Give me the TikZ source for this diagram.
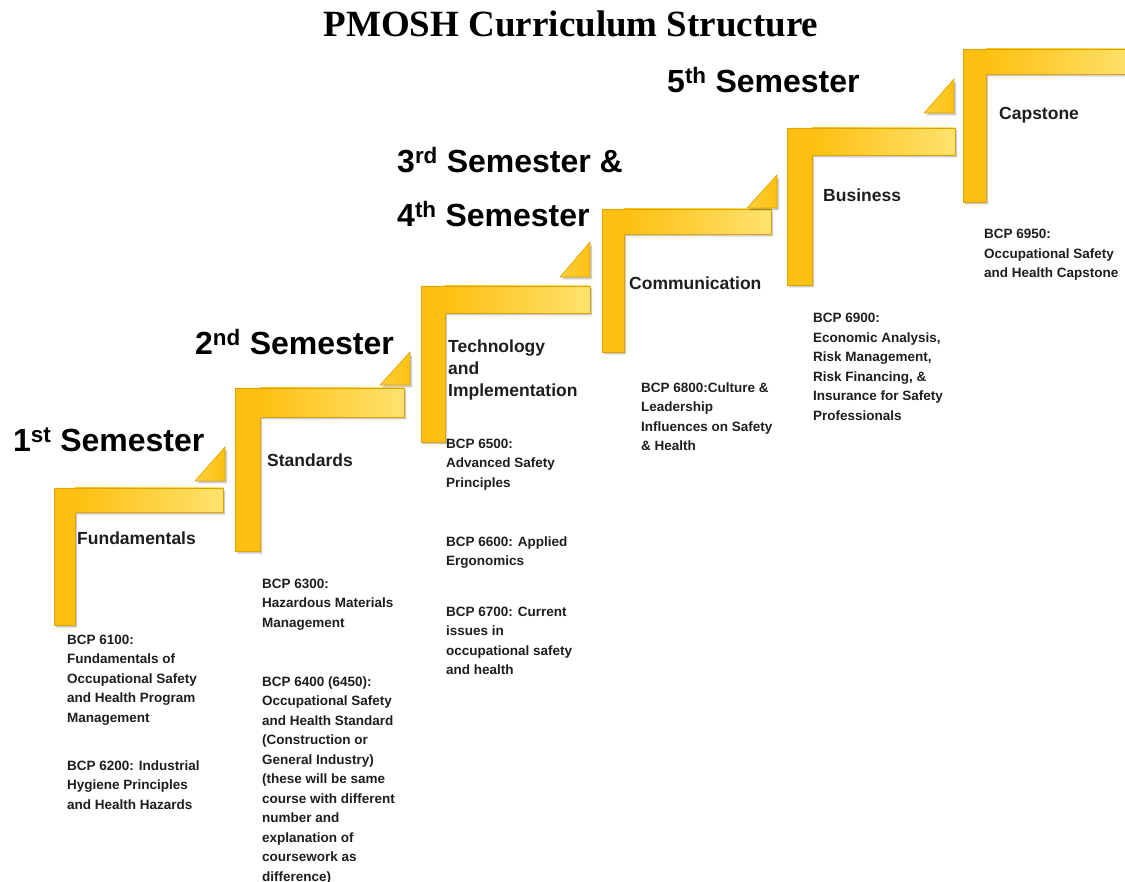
\documentclass[tikz,border=0pt]{standalone}
\usepackage{fontspec}
\setmainfont{Liberation Sans}
\newfontfamily\titlefont{Liberation Serif}
\definecolor{yel}{HTML}{FDC010}
\definecolor{yellight}{HTML}{FFE26E}
\definecolor{yelline}{HTML}{DCA400}
\definecolor{txt}{HTML}{1E1E1E}
\tikzset{
  sem/.style={anchor=base west, inner sep=0pt, text=black, font=\fontsize{32}{36}\selectfont\bfseries},
  cat/.style={anchor=base west, inner sep=0pt, align=left, text=txt, font=\fontsize{17.5}{22}\selectfont\bfseries},
  course/.style={anchor=base west, inner sep=0pt, align=left, text=txt, font=\fontsize{13.5}{19.5}\selectfont\bfseries},
  shadowfill/.style={fill=black, opacity=0.2},
  barline/.style={draw=yelline, line width=0.6pt, line join=miter}
}
\begin{document}
\begin{tikzpicture}[x=1pt,y=-1pt]
\useasboundingbox (0,0) rectangle (1125,882);
\clip (0,0) rectangle (1125,882);
% step brackets
\foreach \L/\T/\R/\Tb/\Li/\B in {54/488/223/512/75/625, 235/388/404/417/260/551, 421/286/590/313/445/442, 602/209/771/234/624/352, 787/128/955/155/812/285, 963/49/1135/74/986/202}{
  \begin{scope}[shift={(2,2.5)}]
    \fill[shadowfill] (\L,\T) -- (\R,\T) -- (\R,\Tb) -- (\Li,\Tb) -- (\Li,\B) -- (\L,\B) -- cycle;
  \end{scope}
  \fill[yel] (\L,\T) -- (\R,\T) -- (\R,\Tb) -- (\Li,\Tb) -- (\Li,\B) -- (\L,\B) -- cycle;
  \shade[left color=yel, right color=yellight] (\Li,\T) rectangle (\R,\Tb);
  \draw[barline] (\L,\T) -- (\R,\T) -- (\R,\Tb) -- (\Li,\Tb) -- (\Li,\B) -- (\L,\B) -- cycle;
}
% small triangles
\foreach \tr/\tb/\ta in {225/481/447, 410/385/352, 590/277/242, 777/208/175, 954/113/79}{
  \begin{scope}[shift={(2,2.5)}]
    \fill[shadowfill] ({\tr-30},\tb) -- (\tr,\tb) -- (\tr,\ta) -- cycle;
  \end{scope}
  \shade[left color=yellight!45!yel, right color=yel] ({\tr-30},\tb) -- (\tr,\tb) -- (\tr,\ta) -- cycle;
  \draw[barline] ({\tr-30},\tb) -- (\tr,\tb) -- (\tr,\ta) -- cycle;
}
% title
\node[anchor=base, inner sep=0pt, font=\titlefont\bfseries\fontsize{37}{40}\selectfont] (title) at (571,37) {PMOSH Curriculum Structure};
% semesters
\node[sem] (s1) at (13,452) {1\textsuperscript{st} Semester};
\node[sem] (s2) at (195,355) {2\textsuperscript{nd} Semester};
\node[sem] (s3) at (397,173) {3\textsuperscript{rd} Semester \&};
\node[sem] (s4) at (397,227) {4\textsuperscript{th} Semester};
\node[sem] (s5) at (667,93) {5\textsuperscript{th} Semester};
% categories (multi-line nodes are anchored at the baseline of their last line)
\node[cat] (c1) at (77,544) {Fundamentals};
\node[cat] (c2) at (267,467) {Standards};
\node[cat] (c3) at (448,397) {Technology\\and\\Implementation};
\node[cat] (c4) at (629,290) {Communication};
\node[cat] (c5) at (823,202) {Business};
\node[cat] (c6) at (999,120) {Capstone};
% courses
\node[course] (k6100) at (67,722) {BCP 6100:\\Fundamentals of\\Occupational Safety\\and Health Program\\Management};
\node[course] (k6200) at (67,809) {BCP 6200: Industrial\\Hygiene Principles\\and Health Hazards};
\node[course] (k6300) at (262,627) {BCP 6300:\\Hazardous Materials\\Management};
\node[course] (k6400) at (262,881) {BCP 6400 (6450):\\Occupational Safety\\and Health Standard\\(Construction or\\General Industry)\\(these will be same\\course with different\\number and\\explanation of\\coursework as\\difference)};
\node[course] (k6500) at (446,487) {BCP 6500:\\Advanced Safety\\Principles};
\node[course] (k6600) at (446,565.5) {BCP 6600: Applied\\Ergonomics};
\node[course] (k6700) at (446,674.5) {BCP 6700: Current\\issues in\\occupational safety\\and health};
\node[course] (k6800) at (641,450.5) {BCP 6800:Culture \&\\Leadership\\Influences on Safety\\\& Health};
\node[course] (k6900) at (813,420.5) {BCP 6900:\\Economic Analysis,\\Risk Management,\\Risk Financing, \&\\Insurance for Safety\\Professionals};
\node[course] (k6950) at (984,278) {BCP 6950:\\Occupational Safety\\and Health Capstone};
\end{tikzpicture}
\end{document}
